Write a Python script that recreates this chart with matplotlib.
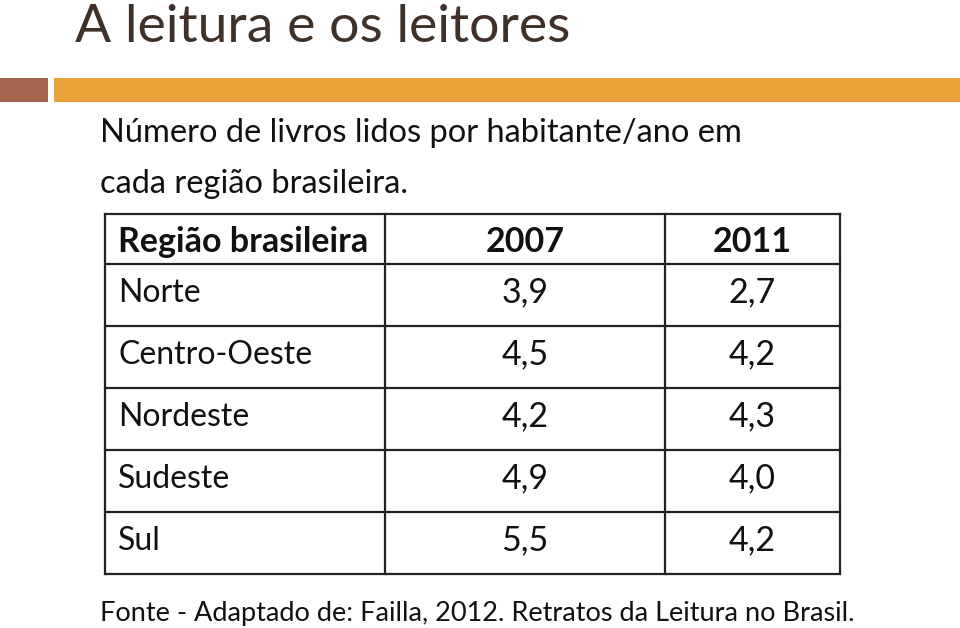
import matplotlib
matplotlib.use("Agg")
import matplotlib.pyplot as plt
from matplotlib.patches import Rectangle

title = "A leitura e os leitores"
subtitle = ["Número de livros lidos por habitante/ano em", "cada região brasileira."]
columns = ["Região brasileira", "2007", "2011"]
regions = ["Norte", "Centro-Oeste", "Nordeste", "Sudeste", "Sul"]
values_2007 = [3.9, 4.5, 4.2, 4.9, 5.5]
values_2011 = [2.7, 4.2, 4.3, 4.0, 4.2]
source = "Fonte - Adaptado de: Failla, 2012. Retratos da Leitura no Brasil."

W, H = 960, 628
fig = plt.figure(figsize=(W / 100, H / 100), dpi=100)
ax = fig.add_axes([0, 0, 1, 1])
ax.set_xlim(0, W)
ax.set_ylim(H, 0)
ax.axis("off")

FONT = "Lato"
ax.text(75, 42, title, fontsize=38.5, color="#3f3128", family=FONT, va="baseline", ha="left")
ax.add_patch(Rectangle((0, 78), 48, 24, color="#a5654f", lw=0))
ax.add_patch(Rectangle((54, 78), W - 54, 24, color="#eba13a", lw=0))

ax.text(100, 142, subtitle[0], fontsize=23.5, color="#111111", family=FONT, va="baseline")
ax.text(100, 193, subtitle[1], fontsize=23.5, color="#111111", family=FONT, va="baseline")

# table geometry
col_x = [105, 385, 665, 840]
top, header_h, row_h = 214, 50, 62
n = len(regions)
bottom = top + header_h + n * row_h
lc = "#222222"
lw = 1.6
for x in col_x:
    ax.plot([x, x], [top, bottom], color=lc, lw=lw, solid_capstyle="projecting")
ys = [top, top + header_h] + [top + header_h + (i + 1) * row_h for i in range(n)]
for y in ys:
    ax.plot([col_x[0], col_x[-1]], [y, y], color=lc, lw=lw, solid_capstyle="projecting")

fs_lbl, fs_num, fs_hdr = 23, 24.5, 24.5
def fmt(v):
    return f"{v:.1f}".replace(".", ",")

hy = top + 38
ax.text(col_x[0] + 13, hy, columns[0], fontsize=fs_hdr, fontweight="bold", family=FONT, va="baseline", color="#111")
for j in (1, 2):
    ax.text((col_x[j] + col_x[j + 1]) / 2, hy, columns[j], fontsize=fs_hdr, fontweight="bold",
            family=FONT, va="baseline", ha="center", color="#111")
for i, (r, a, b) in enumerate(zip(regions, values_2007, values_2011)):
    y = top + header_h + i * row_h + 38
    ax.text(col_x[0] + 13, y, r, fontsize=fs_lbl, family=FONT, va="baseline", color="#111")
    ax.text((col_x[1] + col_x[2]) / 2, y, fmt(a), fontsize=fs_num, family=FONT, va="baseline", ha="center", color="#111")
    ax.text((col_x[2] + col_x[3]) / 2, y, fmt(b), fontsize=fs_num, family=FONT, va="baseline", ha="center", color="#111")

ax.text(100, 621, source, fontsize=19.5, family=FONT, va="baseline", color="#111")

fig.savefig("out.png", dpi=100, facecolor="white")
